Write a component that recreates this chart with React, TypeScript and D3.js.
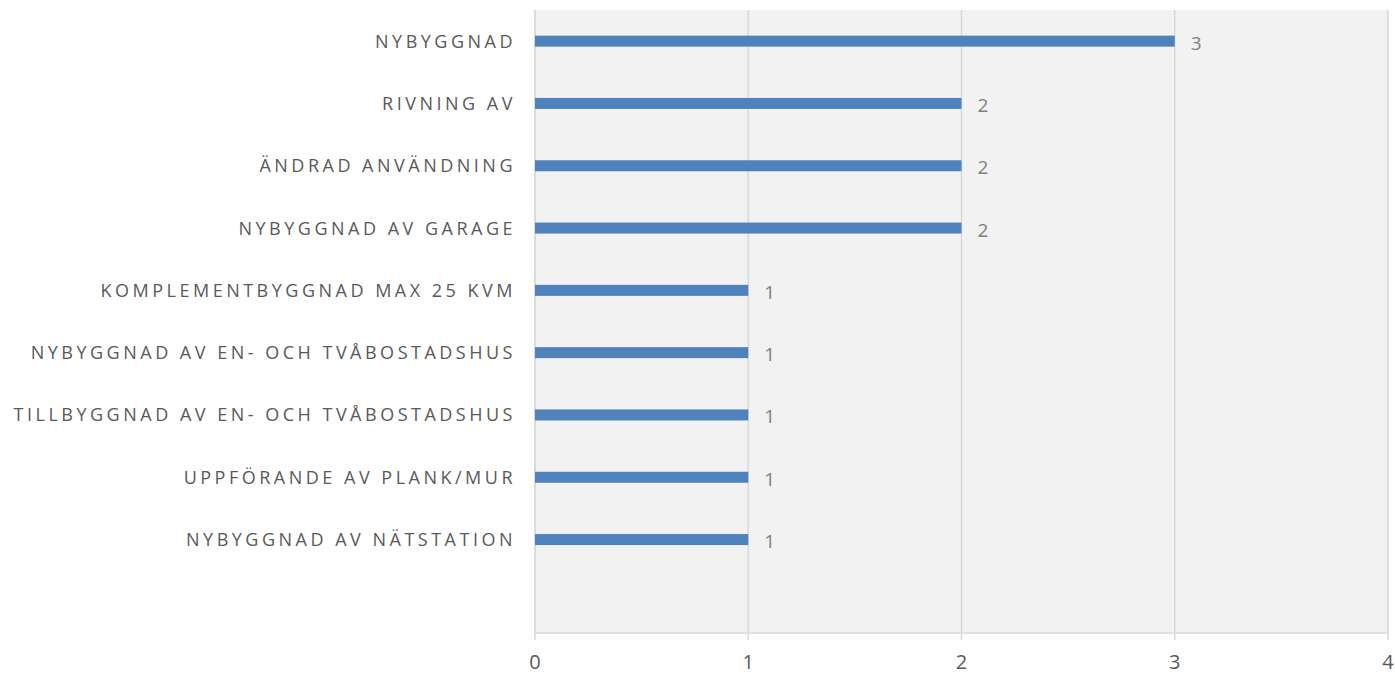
import React from "react";
import * as d3 from "d3";

const categories = [
  "NYBYGGNAD",
  "RIVNING AV",
  "ÄNDRAD ANVÄNDNING",
  "NYBYGGNAD AV GARAGE",
  "KOMPLEMENTBYGGNAD MAX 25 KVM",
  "NYBYGGNAD AV EN- OCH TVÅBOSTADSHUS",
  "TILLBYGGNAD AV EN- OCH TVÅBOSTADSHUS",
  "UPPFÖRANDE AV PLANK/MUR",
  "NYBYGGNAD AV NÄTSTATION",
  "",
];
const values = [3, 2, 2, 2, 1, 1, 1, 1, 1, null];
const xTicks = [0, 1, 2, 3, 4];

const W = 1395;
const H = 675;
const left = 535;
const right = 1388;
const top = 10;
const bottom = 633;

export default function App() {
  const x = d3.scaleLinear().domain([0, 4]).range([left, right]);
  const y = d3
    .scaleBand<number>()
    .domain(categories.map((_, i) => i))
    .range([top, bottom]);
  const barH = 11;
  const font = "'Open Sans', 'Liberation Sans', sans-serif";
  return (
    <svg
      width={W}
      height={H}
      style={{ position: "absolute", left: 0, top: 0 }}
      fontFamily={font}
    >
      <rect x={left} y={top} width={right - left} height={bottom - top} fill="#f2f2f2" />
      {xTicks.map((t) => (
        <line
          key={"g" + t}
          x1={x(t)}
          x2={x(t)}
          y1={top}
          y2={t === 0 ? bottom : bottom + 7}
          stroke="#d9d9d9"
          strokeWidth={1.5}
        />
      ))}
      <line x1={left} x2={left} y1={top} y2={bottom + 7} stroke="#d9d9d9" strokeWidth={1.5} />
      <line x1={left} x2={right} y1={bottom} y2={bottom} stroke="#d9d9d9" strokeWidth={1.5} />
      {xTicks.map((t) => (
        <text
          key={"t" + t}
          x={x(t)}
          y={669}
          textAnchor="middle"
          fontSize={20}
          fill="#595959"
        >
          {t}
        </text>
      ))}
      {categories.map((c, i) => {
        const cy = (y(i) as number) + y.bandwidth() / 2;
        const v = values[i];
        return (
          <g key={i}>
            {c && (
              <text
                x={left - 19}
                y={cy + 6.5}
                textAnchor="end"
                fontSize={18}
                letterSpacing={3.5}
                fill="#595959"
              >
                {c}
              </text>
            )}
            {v != null && (
              <>
                <rect x={left} y={cy - barH / 2} width={x(v) - left} height={barH} fill="#4f81bd" />
                <text x={x(v) + 16} y={cy + 8.5} fontSize={19} fill="#808080">
                  {v}
                </text>
              </>
            )}
          </g>
        );
      })}
    </svg>
  );
}
